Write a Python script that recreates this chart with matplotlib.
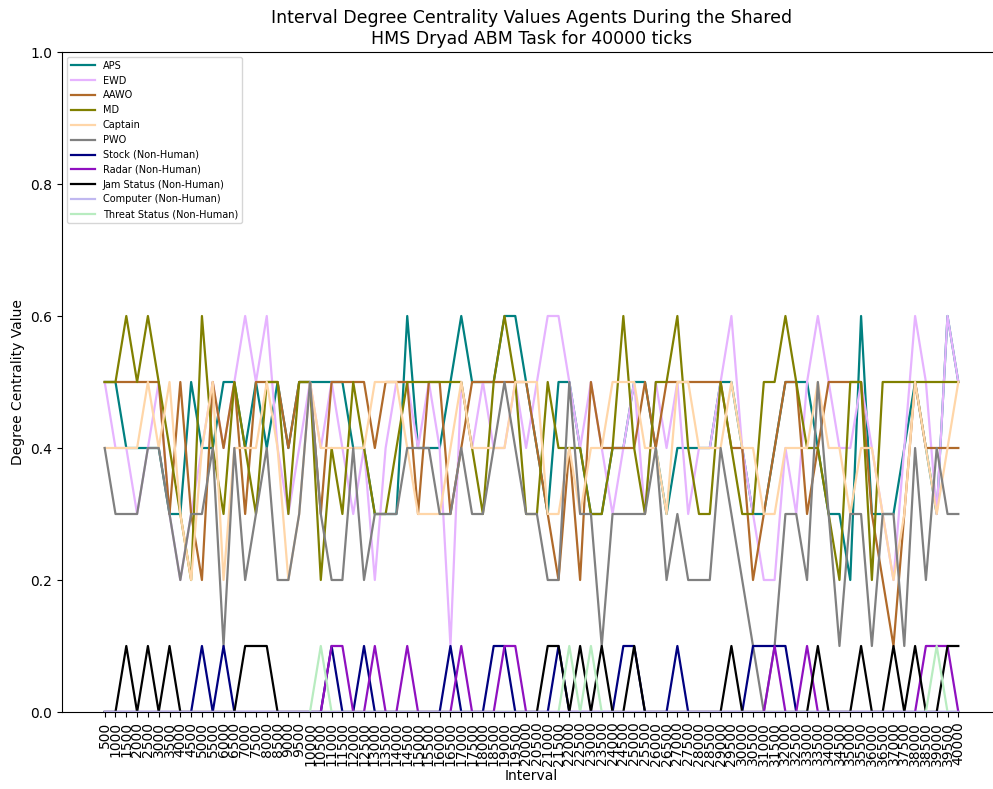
import numpy as np
import matplotlib.pyplot as plt

intervals = [str(v) for v in range(500, 40001, 500)]

aps = [0.5,0.5,0.4,0.4,0.4,0.4,0.3,0.3,0.5,0.4,
       0.4,0.5,0.5,0.4,0.5,0.4,0.5,0.4,0.5,0.5,
       0.5,0.5,0.5,0.4,0.4,0.3,0.3,0.3,0.6,0.4,
       0.4,0.4,0.5,0.6,0.5,0.5,0.5,0.6,0.6,0.5,
       0.4,0.3,0.5,0.5,0.4,0.3,0.3,0.4,0.4,0.5,
       0.5,0.4,0.3,0.4,0.4,0.4,0.4,0.5,0.5,0.4,
       0.3,0.3,0.4,0.5,0.5,0.5,0.4,0.3,0.3,0.2,
       0.6,0.3,0.3,0.3,0.4,0.5,0.4,0.3,0.6,0.5]
ewd = [0.5,0.4,0.4,0.3,0.4,0.5,0.3,0.2,0.3,0.4,
       0.5,0.4,0.5,0.6,0.5,0.6,0.4,0.3,0.4,0.5,
       0.4,0.5,0.4,0.3,0.4,0.2,0.4,0.5,0.5,0.4,
       0.5,0.4,0.1,0.5,0.4,0.5,0.4,0.4,0.5,0.4,
       0.5,0.6,0.6,0.5,0.4,0.5,0.4,0.3,0.4,0.5,
       0.3,0.5,0.4,0.5,0.3,0.4,0.4,0.5,0.6,0.4,
       0.3,0.2,0.2,0.4,0.3,0.5,0.6,0.5,0.4,0.4,
       0.5,0.4,0.3,0.2,0.4,0.6,0.5,0.3,0.6,0.5]
aawo = [0.5,0.5,0.5,0.5,0.5,0.5,0.3,0.5,0.3,0.2,
        0.5,0.4,0.5,0.3,0.5,0.5,0.5,0.4,0.5,0.5,
        0.3,0.5,0.5,0.5,0.5,0.4,0.5,0.5,0.5,0.3,
        0.5,0.5,0.3,0.4,0.5,0.5,0.5,0.5,0.5,0.5,
        0.4,0.3,0.2,0.4,0.2,0.5,0.4,0.4,0.4,0.4,
        0.5,0.4,0.5,0.5,0.5,0.5,0.5,0.5,0.4,0.4,
        0.2,0.3,0.4,0.5,0.5,0.3,0.4,0.5,0.5,0.5,
        0.5,0.3,0.2,0.1,0.3,0.5,0.4,0.4,0.4,0.4]
md = [0.5,0.5,0.6,0.5,0.6,0.5,0.4,0.3,0.2,0.6,
      0.4,0.3,0.5,0.4,0.3,0.5,0.5,0.3,0.5,0.5,
      0.2,0.4,0.3,0.5,0.4,0.3,0.3,0.4,0.5,0.5,
      0.5,0.5,0.5,0.5,0.4,0.3,0.5,0.6,0.5,0.3,
      0.3,0.5,0.4,0.4,0.4,0.3,0.3,0.4,0.6,0.4,
      0.3,0.5,0.5,0.6,0.4,0.3,0.3,0.5,0.4,0.3,
      0.3,0.5,0.5,0.6,0.5,0.4,0.4,0.3,0.2,0.5,
      0.5,0.2,0.5,0.5,0.5,0.5,0.5,0.5,0.5,0.5]
captain = [0.4,0.4,0.4,0.4,0.5,0.4,0.5,0.3,0.2,0.4,
           0.5,0.2,0.4,0.4,0.4,0.5,0.4,0.2,0.3,0.5,
           0.4,0.4,0.4,0.4,0.4,0.5,0.5,0.5,0.4,0.3,
           0.3,0.3,0.4,0.5,0.4,0.4,0.4,0.4,0.5,0.5,
           0.5,0.3,0.3,0.4,0.3,0.4,0.4,0.5,0.5,0.5,
           0.4,0.4,0.3,0.5,0.5,0.4,0.4,0.4,0.5,0.4,
           0.4,0.3,0.3,0.4,0.4,0.4,0.5,0.4,0.4,0.3,
           0.4,0.4,0.3,0.2,0.3,0.5,0.4,0.3,0.4,0.5]
pwo = [0.4,0.3,0.3,0.3,0.4,0.4,0.3,0.2,0.3,0.3,
       0.4,0.1,0.4,0.2,0.3,0.4,0.2,0.2,0.3,0.5,
       0.3,0.2,0.2,0.4,0.2,0.3,0.3,0.3,0.4,0.4,
       0.4,0.3,0.3,0.4,0.3,0.3,0.4,0.5,0.4,0.3,
       0.3,0.2,0.2,0.5,0.3,0.3,0.1,0.3,0.3,0.3,
       0.3,0.4,0.2,0.3,0.2,0.2,0.2,0.4,0.3,0.2,
       0.1,0.0,0.1,0.3,0.3,0.2,0.5,0.3,0.1,0.3,
       0.3,0.1,0.3,0.3,0.1,0.4,0.2,0.4,0.3,0.3]
stock = [0,0,0,0,0,0,0,0,0,0.1,
         0,0.1,0,0,0,0,0,0,0,0,
         0,0.1,0,0,0.1,0,0,0,0,0,
         0,0,0.1,0,0,0,0.1,0.1,0,0,
         0,0,0.1,0,0,0,0,0,0.1,0.1,
         0,0,0,0.1,0,0,0,0,0,0,
         0.1,0.1,0.1,0.1,0,0,0,0,0,0,
         0,0,0,0,0,0,0,0,0,0]
radar = [0,0,0,0,0,0,0,0,0,0,
         0,0,0,0,0,0,0,0,0,0,
         0,0.1,0.1,0,0,0.1,0,0,0.1,0,
         0,0,0,0.1,0,0,0,0.1,0.1,0,
         0,0,0,0,0,0,0,0,0,0,
         0,0,0,0,0,0,0,0,0,0,
         0,0,0.1,0,0,0.1,0,0,0,0,
         0,0,0,0,0,0,0.1,0.1,0.1,0]
jam = [0,0,0.1,0,0.1,0,0.1,0,0,0,
       0,0,0,0.1,0.1,0.1,0,0,0,0,
       0,0,0,0,0,0,0,0,0,0,
       0,0,0,0,0,0,0,0,0,0,
       0,0.1,0.1,0,0.1,0,0.1,0,0,0.1,
       0,0,0,0,0,0,0,0,0.1,0,
       0,0,0,0,0,0,0.1,0,0,0,
       0.1,0,0,0.1,0,0.1,0,0,0.1,0.1]
computer = [0] * 80
threat = [0,0,0,0,0,0,0,0,0,0,
          0,0,0,0,0,0,0,0,0,0,
          0.1,0,0,0,0,0,0,0,0,0,
          0,0,0,0,0,0,0,0,0,0,
          0,0,0,0.1,0,0.1,0,0,0,0,
          0,0,0,0,0,0,0,0,0,0,
          0,0,0,0,0,0,0,0,0,0,
          0,0,0,0,0,0,0,0.1,0,0]

series = [("APS", aps, "#008080"),
          ("EWD", ewd, "#e6b3ff"),
          ("AAWO", aawo, "#b06a2a"),
          ("MD", md, "#808000"),
          ("Captain", captain, "#ffd6a8"),
          ("PWO", pwo, "#808080"),
          ("Stock (Non-Human)", stock, "#000080"),
          ("Radar (Non-Human)", radar, "#9010c0"),
          ("Jam Status (Non-Human)", jam, "#000000"),
          ("Computer (Non-Human)", computer, "#c0b8f0"),
          ("Threat Status (Non-Human)", threat, "#b8ecc0")]

fig = plt.figure(figsize=(9.93, 7.89), dpi=100)
ax = fig.add_axes([62/993, 77/789, 939/993, 660/789])

x = np.arange(len(intervals))
for name, vals, col in series:
    # keep the flat computer line visible along the zero baseline
    z = 2.5 if name.startswith("Computer") else 2
    ax.plot(x, vals, color=col, lw=1.6, label=name, zorder=z)

ax.set_xticks(x)
ax.set_xticklabels(intervals, rotation=90, fontsize=10)
ax.set_xlim(-3.95, 82.95)
ax.set_ylim(0, 1.0)
ax.set_yticks([0.0, 0.2, 0.4, 0.6, 0.8, 1.0])
ax.tick_params(axis='y', labelsize=10)
ax.set_xlabel('Interval', fontsize=10, labelpad=2)
ax.set_ylabel('Degree Centrality Value', fontsize=10)
ax.set_title('Interval Degree Centrality Values Agents During the Shared\nHMS Dryad ABM Task for 40000 ticks', fontsize=12.5)
ax.legend(loc='upper left', fontsize=7, handlelength=2.5)

fig.savefig('out.png', dpi=100)
